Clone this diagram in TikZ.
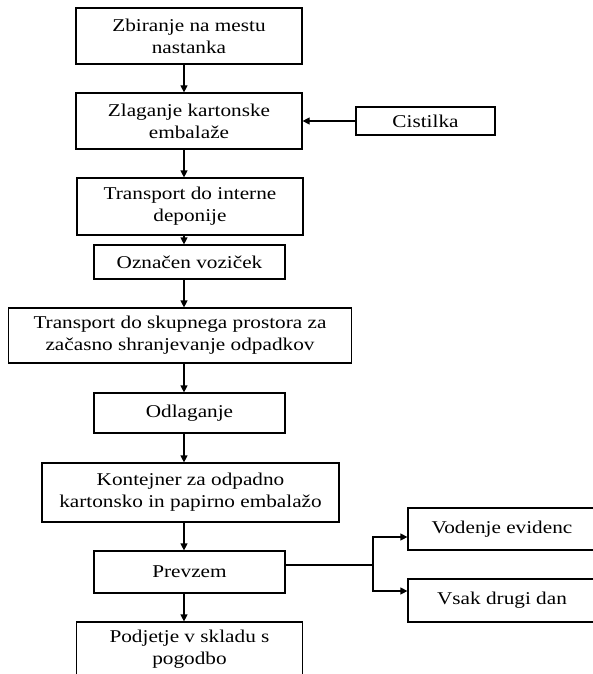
\documentclass[tikz,border=0pt]{standalone}
\usepackage{fontspec}
\setmainfont{Liberation Serif}[FakeStretch=1.18]
\usetikzlibrary{arrows.meta,calc}
\begin{document}
\begin{tikzpicture}[x=1pt,y=-1pt,
  box/.style={draw,line width=1.2pt,rectangle,inner sep=0pt,align=center,
    font=\fontsize{18}{21.7}\selectfont},
  conn/.style={line width=1.2pt},
  arr/.style={line width=1.2pt,-{Triangle[length=7pt,width=7pt]}}]
\fill[white] (0,0) rectangle (593,674);
\useasboundingbox (0,0) rectangle (593,674);
\coordinate (ax) at (184,0);
\node[box,minimum width=226pt,minimum height=56pt] (n1) at (189,36) {Zbiranje na mestu\\nastanka};
\node[box,minimum width=226pt,minimum height=56pt] (n2) at (189,121) {Zlaganje kartonske\\embalaže};
\node[box,minimum width=139pt,minimum height=28pt] (c) at (425.5,121) {Cistilka};
\node[box,minimum width=226pt,minimum height=57pt] (n3) at (190,206.5) {Transport do interne\\deponije};
\node[box,minimum width=191pt,minimum height=34pt] (n4) at (189.5,262) {Označen voziček};
\node[box,minimum width=343pt,minimum height=55pt] (n5) at (180,335.5) {Transport do skupnega prostora za\\začasno shranjevanje odpadkov};
\node[box,minimum width=191pt,minimum height=40pt] (n6) at (189.5,413) {Odlaganje};
\node[box,minimum width=297pt,minimum height=59pt] (n7) at (190.5,492.5) {Kontejner za odpadno\\kartonsko in papirno embalažo};
\node[box,minimum width=191pt,minimum height=42pt] (n8) at (189.5,572) {Prevzem};
\node[box,minimum width=226pt,minimum height=54pt] (n9) at (189.5,649) {Podjetje v skladu s\\pogodbo};
\node[box,minimum width=188pt,minimum height=42pt] (v1) at (502,529) {Vodenje evidenc};
\node[box,minimum width=188pt,minimum height=43pt] (v2) at (502,600.5) {Vsak drugi dan};
% vertical arrows
\draw[arr] (n1.south -| ax) -- (n2.north -| ax);
\draw[arr] (n2.south -| ax) -- (n3.north -| ax);
\draw[arr] (n3.south -| ax) -- (n4.north -| ax);
\draw[arr] (n4.south -| ax) -- (n5.north -| ax);
\draw[arr] (n5.south -| ax) -- (n6.north -| ax);
\draw[arr] (n6.south -| ax) -- (n7.north -| ax);
\draw[arr] (n7.south -| ax) -- (n8.north -| ax);
\draw[arr] (n8.south -| ax) -- (n9.north -| ax);
% Cistilka
\draw[arr] (c.west) -- (n2.east |- c.west);
% branch
\coordinate (bs) at ($(n8.east)+(0,-7)$);
\coordinate (bx) at (373,0);
\coordinate (t1) at ($(v1.west)+(0,8)$);
\coordinate (t2) at ($(v2.west)+(0,-9.5)$);
\draw[conn] (bs) -- (bs -| bx);
\draw[arr] (bs -| bx) -- (t1 -| bx) -- (t1);
\draw[arr] (bs -| bx) -- (t2 -| bx) -- (t2);
\end{tikzpicture}
\end{document}
